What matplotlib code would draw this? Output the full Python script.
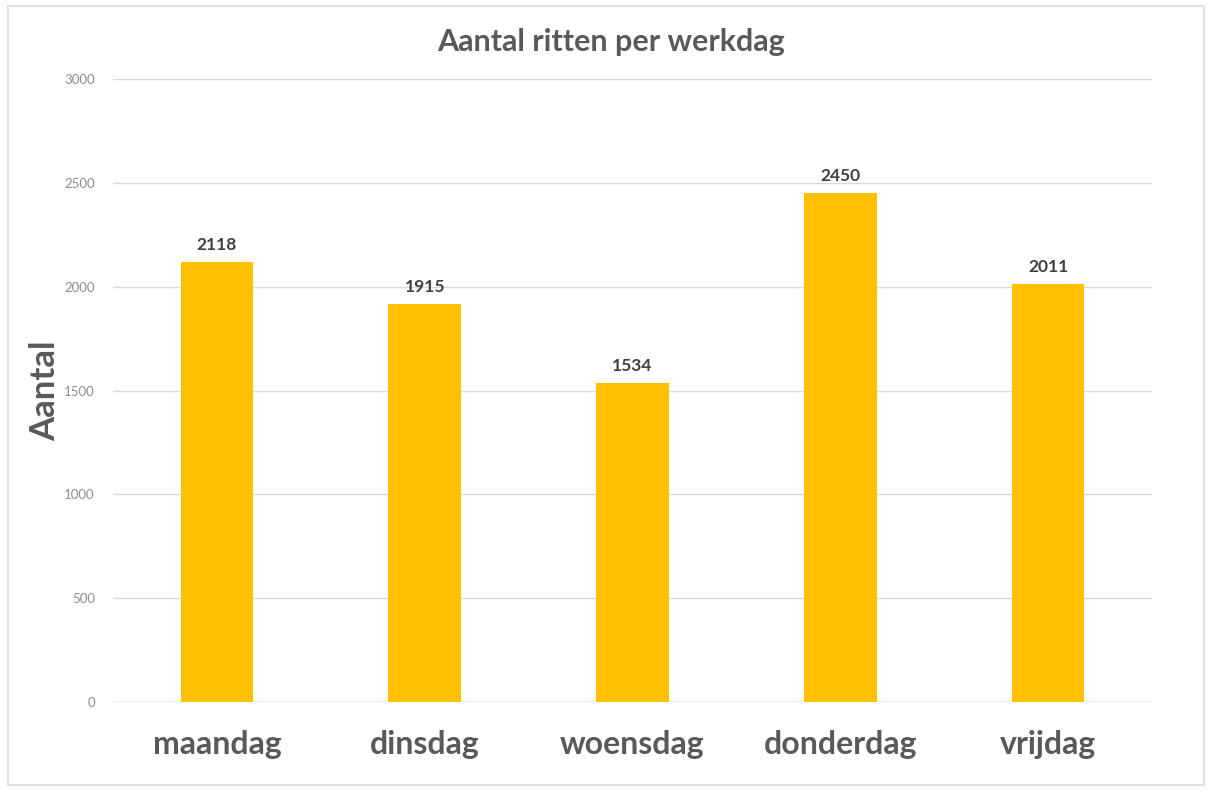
import matplotlib
matplotlib.use("Agg")
import matplotlib.pyplot as plt
from matplotlib.patches import Rectangle

categories = ["maandag", "dinsdag", "woensdag", "donderdag", "vrijdag"]
values = [2118, 1915, 1534, 2450, 2011]
yticks = [0, 500, 1000, 1500, 2000, 2500, 3000]

plt.rcParams['font.family'] = ['Lato', 'DejaVu Sans']

fig = plt.figure(figsize=(12.11, 7.92), dpi=100)
ax = fig.add_axes([113/1211, 90/792, 1039/1211, 623/792])

x = range(len(categories))
bars = ax.bar(x, values, width=0.35, color="#FFC000", zorder=3)
for xi, v in zip(x, values):
    ax.text(xi, v + 45, str(v), ha="center", va="bottom", fontsize=12.5,
            fontweight="bold", color="#404040")

ax.set_xlim(-0.5, len(categories) - 0.5)
ax.set_ylim(0, 3000)
ax.set_yticks(yticks)
ax.set_yticklabels([str(t) for t in yticks], fontsize=9.5, color="#8c8c8c")
ax.set_xticks(list(x))
ax.set_xticklabels(categories, fontsize=23, fontweight="bold", color="#595959")
ax.tick_params(axis="both", length=0)
ax.tick_params(axis="x", pad=20)
ax.tick_params(axis="y", pad=13)
ax.grid(axis="y", color="#d9d9d9", linewidth=1, zorder=0)
for s in ax.spines.values():
    s.set_visible(False)
ax.axhline(0, color="#d9d9d9", linewidth=1, zorder=1)

ax.set_ylabel("Aantal", fontsize=25, fontweight="bold", color="#595959", labelpad=2)
fig.text(611/1211, 1 - 42/792, "Aantal ritten per werkdag", ha="center", va="center",
         fontsize=22, fontweight="bold", color="#595959")

fig.patches.append(Rectangle((8/1211, 7/792), 1196/1211, 779/792, transform=fig.transFigure,
                             fill=False, edgecolor="#e0e0e0", linewidth=1.5))

fig.savefig("out.png", dpi=100, facecolor="white")
